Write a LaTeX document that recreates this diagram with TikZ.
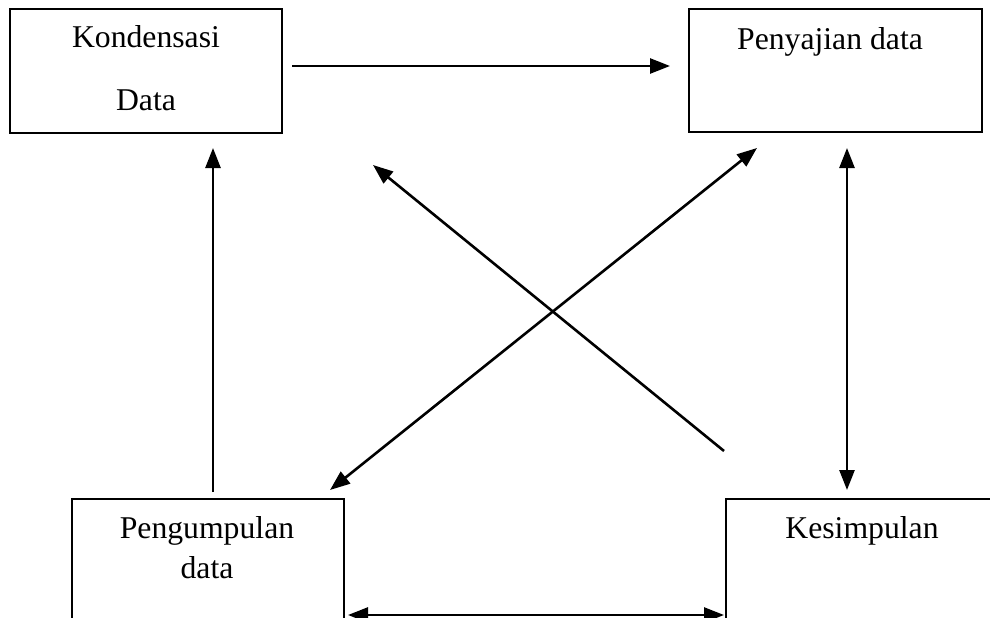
\documentclass[tikz,border=0pt]{standalone}
\usepackage{fontspec}
\setmainfont{Liberation Serif}
\usetikzlibrary{arrows.meta}

\begin{document}
\begin{tikzpicture}[x=1pt,y=-1pt,>={Triangle[length=20pt,width=15pt]}]
\tikzstyle{box}=[draw,rectangle,line width=2pt,inner sep=0pt];
\tikzstyle{lbl}=[anchor=base,inner sep=0pt,font=\fontsize{31.7}{38}\selectfont];
\tikzstyle{flow}=[line width=2.6pt];
\useasboundingbox (0,0) rectangle (990,618);
\clip (0,0) rectangle (990,618);
% boxes
    \node[box,minimum width=272pt,minimum height=124pt] (kond) at (146,71) {};
    \node[box,minimum width=293pt,minimum height=123pt] (peny) at (835.5,70.5) {};
    \node[box,minimum width=272pt,minimum height=200pt] (peng) at (208,599) {};
    \node[box,minimum width=290pt,minimum height=200pt] (kesi) at (871,599) {};
% labels
    \node[lbl] (kondA) at (146,48)  {Kondensasi};
    \node[lbl] (kondB) at (146,110) {Data};
    \node[lbl] (penyA) at (830,50)  {Penyajian data};
    \node[lbl] (pengA) at (207,538) {Pengumpulan};
    \node[lbl] (pengB) at (207,578) {data};
    \node[lbl] (kesiA) at (862,538) {Kesimpulan};
% arrow ends
    \coordinate (a1) at (292,66);   \coordinate (a2) at (670,66);
    \coordinate (b1) at (213,492);  \coordinate (b2) at (213,148);
    \coordinate (c1) at (847,148);  \coordinate (c2) at (847,490);
    \coordinate (d1) at (757,148);  \coordinate (d2) at (330,490);
    \coordinate (e1) at (724,451);  \coordinate (e2) at (373,165);
    \coordinate (f1) at (348,615);  \coordinate (f2) at (724,615);
% edges
    \draw[flow,->]  (a1) -- (a2);
    \draw[flow,->]  (b1) -- (b2);
    \draw[flow,<->] (c1) -- (c2);
    \draw[flow,<->] (d1) -- (d2);
    \draw[flow,->]  (e1) -- (e2);
    \draw[flow,<->] (f1) -- (f2);
\end{tikzpicture}
\end{document}
